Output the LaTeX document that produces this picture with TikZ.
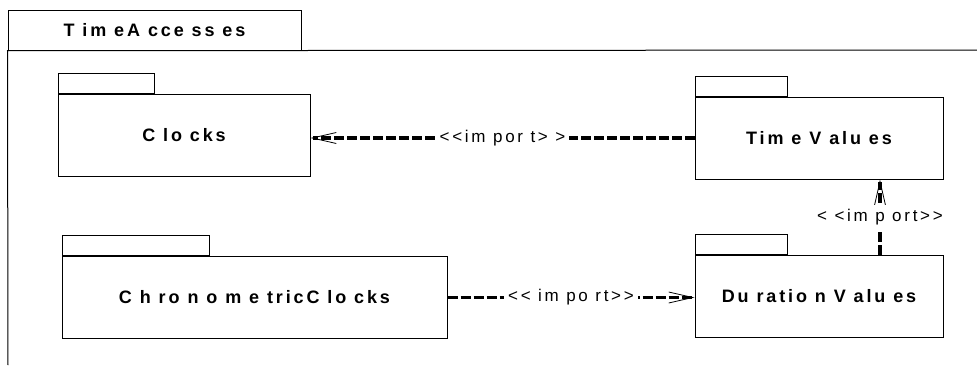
\documentclass[tikz,border=0pt]{standalone}
\usepackage{fontspec}
\setmainfont{Liberation Sans}
\newfontfamily\pkgfont{Liberation Sans}[LetterSpace=16]
\usepackage{tikz}
\usetikzlibrary{positioning,arrows.meta}

\begin{document}
\begin{tikzpicture}[
  x=1pt, y=-1pt,
  pkg/.style={draw, line width=1pt, minimum height=82pt, inner sep=0pt,
    font=\pkgfont\bfseries\fontsize{18}{20}\selectfont},
  tab/.style={draw, line width=1pt, minimum height=20pt, inner sep=0pt,
    anchor=south west},
  dep/.style={line width=3.5pt, dash pattern=on 10pt off 3pt,
    -{Straight Barb[length=24pt, width=11pt, line width=0.8pt]}},
  lbl/.style={fill=white, inner sep=4pt, font=\pkgfont\fontsize{17}{19}\selectfont}
]
\useasboundingbox (0,0) rectangle (977,365);

% FRAME
\node[draw, line width=1pt, minimum width=293pt, minimum height=40pt, inner sep=0pt,
      font=\pkgfont\bfseries\fontsize{18}{20}\selectfont] (frame) at (154.5,30) {T im eA cce ss es};
\coordinate (fr) at (977,50);
\coordinate (fb) at (8,365);
\draw[line width=1pt] (fr) -- (frame.south east) -- (frame.south west) -- (fb);

% PACKAGES
\node[pkg, minimum width=252pt] (clk) at (184,135.5) {C lo cks};
\node[tab, minimum width=96pt] (clktab) [above right=0pt and 0pt of clk.north west] {};

\node[pkg, minimum width=248pt] (tv) at (819,138) {Tim e V alu es};
\node[tab, minimum width=92pt] (tvtab) [above right=0pt and 0pt of tv.north west] {};

\node[pkg, minimum width=385pt] (chr) at (254.5,297.5) {C h ro n o m e tricC lo cks};
\node[tab, minimum width=147pt] (chrtab) [above right=0pt and 0pt of chr.north west] {};

\node[pkg, minimum width=248pt] (dur) at (819,296) {Du ratio n V alu es};
\node[tab, minimum width=92pt] (durtab) [above right=0pt and 0pt of dur.north west] {};

% IMPORTS
\draw[dep] (tv.west) -- (tv.west -| clk.east) node[lbl, midway] (imp1) {<<im por t> >};
\draw[dep] (chr.east) -- (chr.east -| dur.west) node[lbl, midway] (imp2) {<< im po rt>>};
\draw[dep] ([xshift=61pt]dur.north) -- ([xshift=61pt]tv.south) node[lbl, midway] (imp3) {< <im p ort>>};

\end{tikzpicture}
\end{document}
